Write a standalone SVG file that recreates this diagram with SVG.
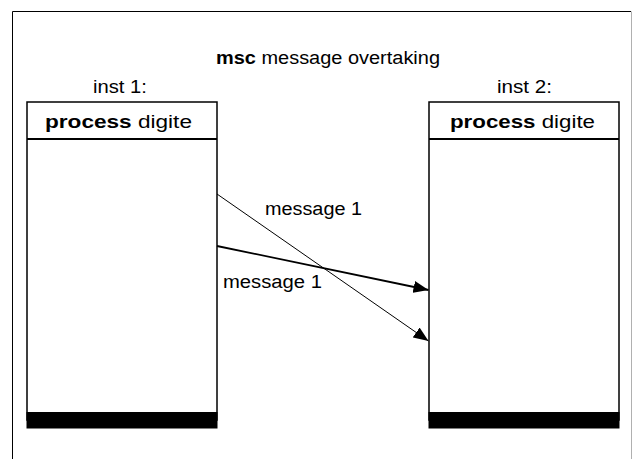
<svg xmlns="http://www.w3.org/2000/svg" width="633" height="459" viewBox="0 0 633 459">
<defs>
<style>
text{font-family:"Liberation Sans",Arial,sans-serif;font-size:18px;fill:#000}
.b{font-weight:bold}
.box{fill:#fff;stroke:#000;stroke-width:1.5}
.div{stroke:#000;stroke-width:2}
.bar{fill:#000}
.msg{stroke:#000;fill:none}
</style>
<marker id="ah" viewBox="0 0 15 12" refX="15" refY="6" markerWidth="15" markerHeight="12" markerUnits="userSpaceOnUse" orient="auto">
<path d="M0,0 L15,6 L0,12 Z" fill="#000"/>
</marker>
</defs>
<rect width="633" height="459" fill="#fff"/>
<g id="frame">
<path d="M12.5,459 V11.5 H631" fill="none" stroke="#000" stroke-width="1"/>
<path d="M631.5,11.5 V459" fill="none" stroke="#b0b0b0" stroke-width="1"/>
<text x="216" y="64" textLength="224" lengthAdjust="spacingAndGlyphs"><tspan class="b">msc</tspan> message overtaking</text>
</g>
<g id="inst1">
<text x="93" y="93" textLength="54" lengthAdjust="spacingAndGlyphs">inst 1:</text>
<rect class="box" x="27" y="102" width="190" height="318"/>
<line class="div" x1="27" y1="139" x2="217" y2="139"/>
<text x="45" y="128" textLength="147" lengthAdjust="spacingAndGlyphs"><tspan class="b">process</tspan> digite</text>
<rect class="bar" x="26.5" y="412" width="191" height="16.5"/>
</g>
<g id="inst2">
<text x="497" y="93" textLength="55" lengthAdjust="spacingAndGlyphs">inst 2:</text>
<rect class="box" x="429" y="102" width="190" height="318"/>
<line class="div" x1="429" y1="139" x2="619" y2="139"/>
<text x="450" y="128" textLength="145" lengthAdjust="spacingAndGlyphs"><tspan class="b">process</tspan> digite</text>
<rect class="bar" x="428.5" y="412" width="191" height="16.5"/>
</g>
<g id="connectors">
<line class="msg" x1="217" y1="194" x2="428.5" y2="341" stroke-width="1" marker-end="url(#ah)"/>
<line class="msg" x1="217" y1="246" x2="428.5" y2="290" stroke-width="1.8" marker-end="url(#ah)"/>
<text x="265" y="215" textLength="97" lengthAdjust="spacingAndGlyphs">message 1</text>
<text x="223" y="288" textLength="99" lengthAdjust="spacingAndGlyphs">message 1</text>
</g>
</svg>
